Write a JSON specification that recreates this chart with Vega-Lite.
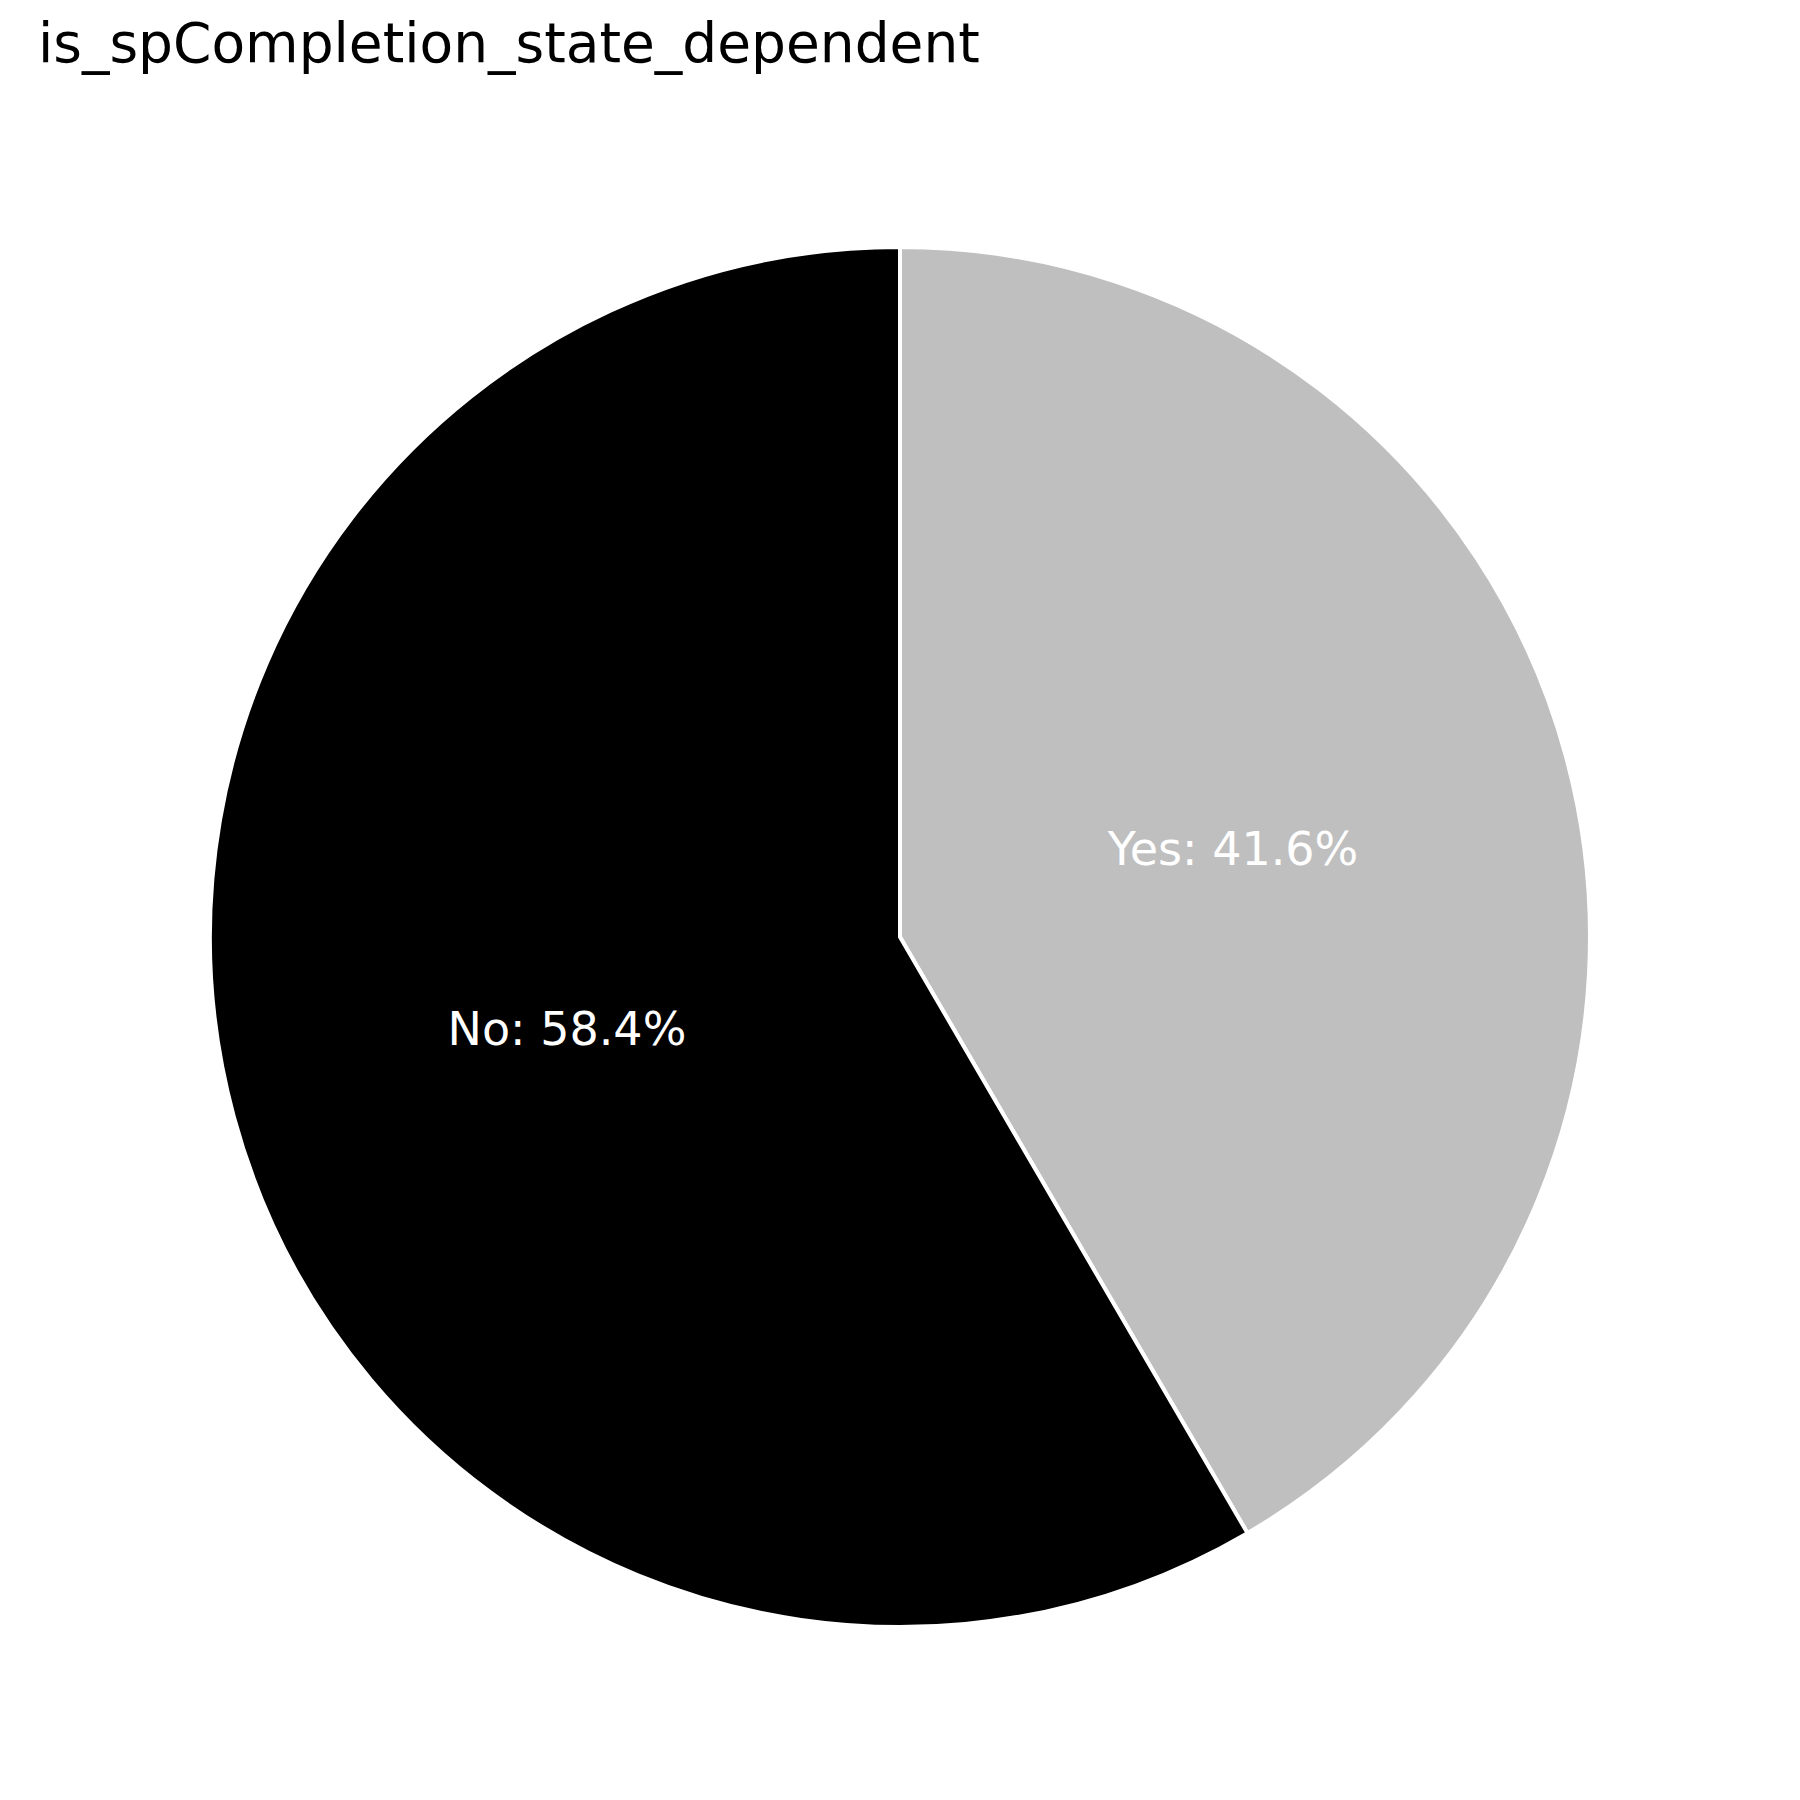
{
  "$schema": "https://vega.github.io/schema/vega-lite/v6.json",
  "width": 1724,
  "height": 1726,
  "autosize": {"type": "none"},
  "padding": {"left": 38, "right": 38, "top": 74, "bottom": 0},
  "background": "white",
  "config": {"view": {"stroke": null}, "font": "DejaVu Sans"},
  "title": {
    "text": "is_spCompletion_state_dependent",
    "anchor": "start",
    "frame": "group",
    "font": "DejaVu Sans",
    "fontSize": 55,
    "fontWeight": "normal",
    "color": "black",
    "baseline": "alphabetic",
    "offset": 11,
    "dy": 54
  },
  "data": {
    "values": [
      {"answer": "Yes", "pct": 41.6, "order": 1},
      {"answer": "No", "pct": 58.4, "order": 2}
    ]
  },
  "transform": [
    {"calculate": "datum.answer + ': ' + format(datum.pct, '.1f') + '%'", "as": "label"}
  ],
  "encoding": {
    "theta": {"field": "pct", "type": "quantitative", "stack": true},
    "order": {"field": "order", "type": "quantitative"}
  },
  "layer": [
    {
      "mark": {"type": "arc", "radius": 690, "stroke": "white", "strokeWidth": 4},
      "encoding": {
        "color": {
          "field": "answer",
          "type": "nominal",
          "scale": {"domain": ["Yes", "No"], "range": ["#bfbfbf", "#000000"]},
          "legend": null
        }
      }
    },
    {
      "mark": {"type": "text", "radius": 345, "fontSize": 46, "font": "DejaVu Sans", "color": "white", "align": "center", "baseline": "middle", "dy": 4},
      "encoding": {
        "text": {"field": "label", "type": "nominal"}
      }
    }
  ]
}
